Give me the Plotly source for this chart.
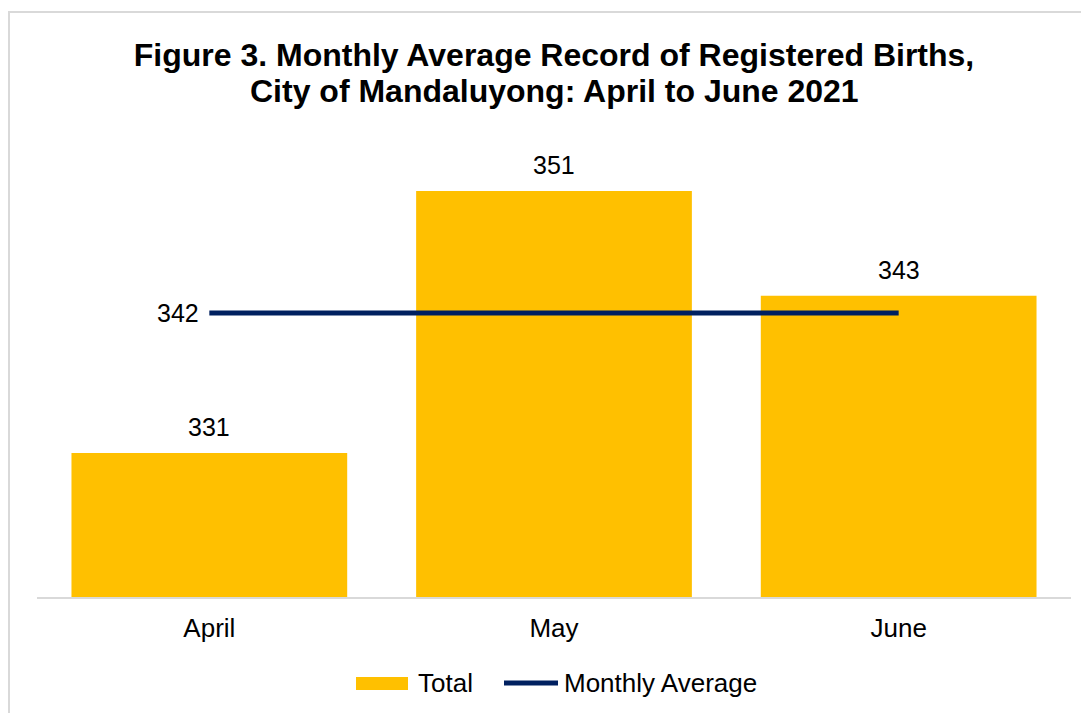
import plotly.graph_objects as go

months = ["April", "May", "June"]
totals = [331, 351, 343]
monthly_avg = [341.67, 341.67, 341.67]

FONT = "Liberation Sans, Arial, sans-serif"
BAR_COLOR = "#FFC000"
LINE_COLOR = "#002060"

# page offset of the plot div (default body margin)
OFF = 8
FIG_W, FIG_H = 1089 - OFF, 713 - OFF
PLOT_L, PLOT_R, PLOT_T, PLOT_B = 37, 1071, 73, 597  # page pixels


def px(xp):
    return (xp - PLOT_L) / (PLOT_R - PLOT_L)


def py(yp):
    return (PLOT_B - yp) / (PLOT_B - PLOT_T)


fig = go.Figure()
fig.add_trace(go.Bar(
    x=months, y=totals, name="Total",
    marker=dict(color=BAR_COLOR, line=dict(width=0)),
    showlegend=False,
))
fig.add_trace(go.Scatter(
    x=months, y=monthly_avg, name="Monthly Average",
    mode="lines",
    line=dict(color=LINE_COLOR, width=5),
    cliponaxis=False, showlegend=False,
))

annotations = []
# bar data labels
for m, v in zip(months, totals):
    annotations.append(dict(
        x=m, y=v, xref="x", yref="y", text=str(v), showarrow=False,
        yanchor="middle", yshift=26,
        font=dict(family=FONT, size=25, color="#000000"),
    ))
# average label at left of the line
annotations.append(dict(
    x=months[0], y=monthly_avg[0], xref="x", yref="y",
    text=f"{monthly_avg[0]:.0f}", showarrow=False,
    xanchor="right", yanchor="middle", xshift=-8,
    font=dict(family=FONT, size=25, color="#000000"),
))
# second title line
annotations.append(dict(
    x=0.5, y=py(91), xref="paper", yref="paper", xanchor="center", yanchor="middle",
    text="<b>City of Mandaluyong: April to June 2021</b>", showarrow=False,
    font=dict(family=FONT, size=32, color="#000000"),
))
# legend texts
annotations.append(dict(
    x=px(416), y=py(683), xref="paper", yref="paper", xanchor="left", yanchor="middle",
    text="Total", showarrow=False, font=dict(family=FONT, size=26, color="#000000"),
))
annotations.append(dict(
    x=px(562), y=py(683), xref="paper", yref="paper", xanchor="left", yanchor="middle",
    text="Monthly Average", showarrow=False, font=dict(family=FONT, size=26, color="#000000"),
))

shapes = [
    # outer chart border (cropped at right/bottom)
    dict(type="rect", xref="paper", yref="paper",
         x0=px(9), x1=1.2, y0=-0.5, y1=py(12),
         line=dict(color="#D9D9D9", width=2), fillcolor="rgba(0,0,0,0)", layer="below"),
    # legend swatches
    dict(type="rect", xref="paper", yref="paper",
         x0=px(356), x1=px(408), y0=py(690), y1=py(677),
         line=dict(width=0), fillcolor=BAR_COLOR),
    dict(type="line", xref="paper", yref="paper",
         x0=px(504), x1=px(558), y0=py(683), y1=py(683),
         line=dict(color=LINE_COLOR, width=5)),
]

fig.update_layout(
    width=FIG_W, height=FIG_H,
    margin=dict(l=PLOT_L - OFF, r=FIG_W - (PLOT_R - OFF), t=PLOT_T - OFF, b=FIG_H - (PLOT_B - OFF)),
    paper_bgcolor="white", plot_bgcolor="white",
    bargap=0.2,
    title=dict(
        text="<b>Figure 3. Monthly Average Record of Registered Births,</b>",
        x=0.5, xref="paper", xanchor="center",
        y=1 - (55 - OFF) / FIG_H, yref="container", yanchor="middle",
        font=dict(family=FONT, size=32, color="#000000"),
    ),
    xaxis=dict(
        showline=True, linecolor="#D9D9D9", linewidth=2,
        ticks="", showgrid=False,
        tickfont=dict(family=FONT, size=26, color="#000000"),
        ticklabelstandoff=7,
    ),
    yaxis=dict(
        range=[320, 360], showticklabels=False, showgrid=False,
        zeroline=False, showline=False, ticks="",
    ),
    showlegend=False,
    annotations=annotations,
    shapes=shapes,
)

fig.write_html("out.html")
